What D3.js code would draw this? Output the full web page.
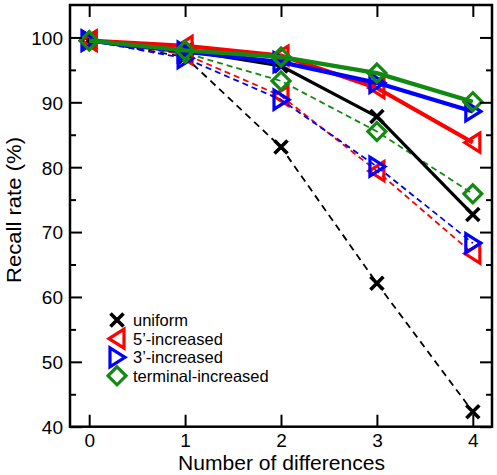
<!DOCTYPE html>
<html>
<head>
<meta charset="utf-8">
<script src="https://cdn.jsdelivr.net/npm/d3@7"></script>
<style>
  html, body { margin: 0; padding: 0; background: #fff; }
  svg { display: block; font-family: "Liberation Sans", Arial, Helvetica, sans-serif; }
</style>
</head>
<body>
<svg id="chart" width="497" height="475"></svg>
<script>
// ---- data ----
const xValues = [0, 1, 2, 3, 4];
const xTicks = [0, 1, 2, 3, 4];
const yTicks = [40, 50, 60, 70, 80, 90, 100];
const yMinorTicks = [45, 55, 65, 75, 85, 95];

const uniformSolid      = [99.5, 98.0, 95.6, 87.8, 72.7];
const fivePrimeSolid    = [99.5, 98.7, 97.2, 92.2, 83.8];
const threePrimeSolid   = [99.5, 97.8, 96.2, 93.0, 88.6];
const terminalSolid     = [99.5, 98.0, 97.0, 94.5, 90.1];

const uniformDashed     = [99.5, 97.0, 83.1, 62.1, 42.3];
const fivePrimeDashed   = [99.5, 97.4, 91.0, 79.4, 66.7];
const threePrimeDashed  = [99.5, 96.8, 90.4, 80.1, 68.3];
const terminalDashed    = [99.5, 97.6, 93.3, 85.5, 75.9];

const legendLabels = ["uniform", "5\u2019-increased", "3\u2019-increased", "terminal-increased"];
const seriesColors = ["#000000", "#ff0000", "#0000ff", "#128a12"];
const seriesMarkers = ["x", "tri-left", "tri-right", "diamond"];

// ---- layout ----
const svg = d3.select("#chart");
const L = 70, R = 492, T = 5, B = 426.7;
const x = d3.scaleLinear().domain([-0.2, 4.2]).range([L, R]);
const y = d3.scaleLinear().domain([40, 105]).range([B, T]);

function markerPath(type) {
  switch (type) {
    case "x": return "M-6.5,-6.5L6.5,6.5M-6.5,6.5L6.5,-6.5";
    case "tri-left": return "M-8,0L7,-9.5L7,9.5Z";
    case "tri-right": return "M8,0L-7,-9.5L-7,9.5Z";
    case "diamond": return "M0,-9L9,0L0,9L-9,0Z";
  }
}
function markerWidth(type) { return type === "x" ? 3.6 : 3.2; }

const dashedSets = [uniformDashed, fivePrimeDashed, threePrimeDashed, terminalDashed];
const solidSets = [uniformSolid, fivePrimeSolid, threePrimeSolid, terminalSolid];

const line = d3.line().x((d, i) => x(xValues[i])).y(d => y(d));

function drawSeries(vals, k, dashed) {
  const g = svg.append("g");
  g.append("path")
    .attr("d", line(vals))
    .attr("fill", "none")
    .attr("stroke", seriesColors[k])
    .attr("stroke-width", dashed ? 1.8 : (k === 0 ? 3.2 : 4.2))
    .attr("stroke-dasharray", dashed ? (k === 0 ? "7,5" : "6,4") : null)
    .attr("stroke-linejoin", "round");
  g.selectAll("path.m").data(vals).join("path")
    .attr("class", "m")
    .attr("transform", (d, i) => `translate(${x(xValues[i])},${y(d)})`)
    .attr("d", markerPath(seriesMarkers[k]))
    .attr("fill", "none")
    .attr("stroke", seriesColors[k])
    .attr("stroke-width", markerWidth(seriesMarkers[k]));
}

dashedSets.forEach((vals, k) => drawSeries(vals, k, true));
solidSets.forEach((vals, k) => drawSeries(vals, k, false));

// ---- axes ----
const fontSize = 19;
const axL = svg.append("g").attr("transform", `translate(${L},0)`)
  .call(d3.axisLeft(y).tickValues(yTicks).tickSizeInner(-12).tickSizeOuter(0).tickPadding(7));
const axLm = svg.append("g").attr("transform", `translate(${L},0)`)
  .call(d3.axisLeft(y).tickValues(yMinorTicks).tickSizeInner(-6).tickSizeOuter(0).tickFormat(""));
const axR = svg.append("g").attr("transform", `translate(${R},0)`)
  .call(d3.axisRight(y).tickValues(yTicks).tickSizeInner(-12).tickSizeOuter(0).tickFormat(""));
const axRm = svg.append("g").attr("transform", `translate(${R},0)`)
  .call(d3.axisRight(y).tickValues(yMinorTicks).tickSizeInner(-6).tickSizeOuter(0).tickFormat(""));
const axB = svg.append("g").attr("transform", `translate(0,${B})`)
  .call(d3.axisBottom(x).tickValues(xTicks).tickSizeInner(-12).tickSizeOuter(0).tickPadding(7).tickFormat(d3.format("d")));
const axT = svg.append("g").attr("transform", `translate(0,${T})`)
  .call(d3.axisTop(x).tickValues(xTicks).tickSizeInner(-12).tickSizeOuter(0).tickFormat(""));

[axL, axLm, axR, axRm, axB, axT].forEach(a => {
  a.select(".domain").remove();
  a.selectAll(".tick line").attr("stroke", "#000").attr("stroke-width", 2);
  a.selectAll(".tick text").attr("font-size", fontSize).attr("fill", "#000")
    .attr("font-family", "'Liberation Sans', Arial, sans-serif");
});
axL.selectAll(".tick text").attr("dy", "0.36em");

svg.append("rect")
  .attr("x", L).attr("y", T).attr("width", R - L).attr("height", B - T)
  .attr("fill", "none").attr("stroke", "#000").attr("stroke-width", 2.5);

// ---- titles ----
svg.append("text")
  .attr("x", (L + R) / 2 + 0.5).attr("y", 470)
  .attr("text-anchor", "middle").attr("font-size", 20)
  .attr("textLength", 207).attr("lengthAdjust", "spacingAndGlyphs")
  .text("Number of differences");
svg.append("text")
  .attr("transform", "translate(21,210) rotate(-90)")
  .attr("text-anchor", "middle").attr("font-size", 20)
  .attr("textLength", 146).attr("lengthAdjust", "spacingAndGlyphs")
  .text("Recall rate (%)");

// ---- legend ----
const legY = [320, 338.7, 357.3, 375.8];
const leg = svg.append("g");
legendLabels.forEach((lab, k) => {
  leg.append("path")
    .attr("transform", `translate(117,${legY[k]})`)
    .attr("d", markerPath(seriesMarkers[k]))
    .attr("fill", "none")
    .attr("stroke", seriesColors[k])
    .attr("stroke-width", markerWidth(seriesMarkers[k]));
  leg.append("text")
    .attr("x", 133).attr("y", legY[k] + 5.8)
    .attr("font-size", 16.5)
    .text(lab);
});
</script>
</body>
</html>
